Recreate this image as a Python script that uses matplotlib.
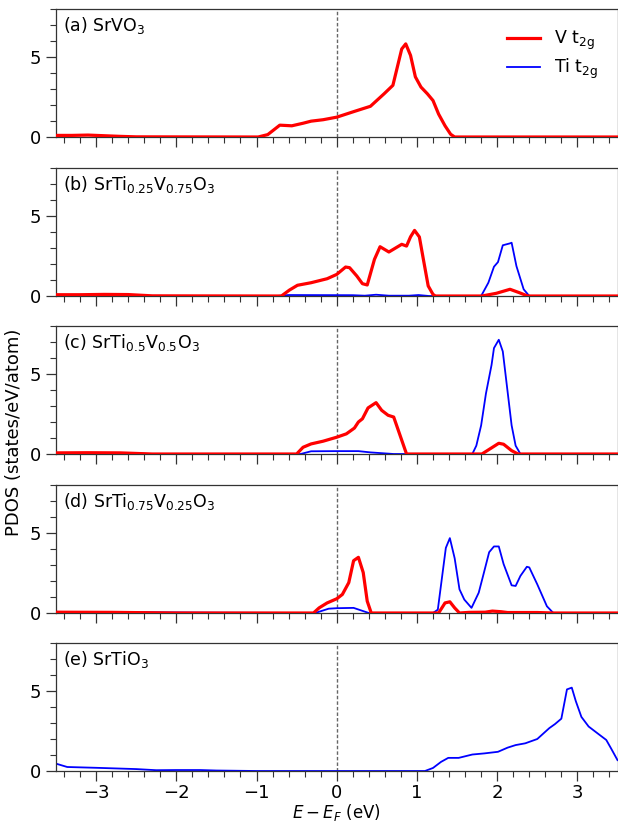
import matplotlib
matplotlib.use("Agg")
import matplotlib.pyplot as plt
from matplotlib.ticker import MultipleLocator

# ---------------- data ----------------
panel_labels = [r"(a) SrVO$_3$", r"(b) SrTi$_{0.25}$V$_{0.75}$O$_3$",
                r"(c) SrTi$_{0.5}$V$_{0.5}$O$_3$", r"(d) SrTi$_{0.75}$V$_{0.25}$O$_3$",
                r"(e) SrTiO$_3$"]
series_labels = [r"V t$_{\mathrm{2g}}$", r"Ti t$_{\mathrm{2g}}$"]

# (a) SrVO3
a_v_e = [-3.5, -3.3, -3.1, -2.9, -2.7, -2.5, -0.98, -0.86, -0.71, -0.56, -0.42, -0.32, -0.17, 0.0,
         0.22, 0.42, 0.59, 0.70, 0.81, 0.86, 0.92, 0.98, 1.05, 1.13, 1.20, 1.27, 1.35, 1.42, 1.47, 3.5]
a_v_d = [0.10, 0.10, 0.12, 0.08, 0.04, 0.01, 0.0, 0.15, 0.74, 0.70, 0.86, 0.99, 1.08, 1.24,
         1.60, 1.92, 2.70, 3.23, 5.50, 5.82, 5.10, 3.76, 3.12, 2.70, 2.28, 1.43, 0.70, 0.17, 0.0, 0.0]

# (b) SrTi0.25V0.75O3
b_v_e = [-3.5, -3.2, -2.9, -2.6, -2.3, -0.69, -0.59, -0.49, -0.32, -0.12, 0.0, 0.11, 0.16, 0.25,
         0.32, 0.38, 0.47, 0.54, 0.65, 0.81, 0.87, 0.92, 0.97, 1.03, 1.08, 1.14, 1.20, 1.23,
         1.81, 1.99, 2.16, 2.28, 2.38, 3.5]
b_v_d = [0.08, 0.08, 0.10, 0.09, 0.01, 0.0, 0.37, 0.67, 0.83, 1.08, 1.35, 1.81, 1.77, 1.25,
         0.77, 0.69, 2.29, 3.08, 2.75, 3.23, 3.12, 3.70, 4.10, 3.69, 2.29, 0.63, 0.10, 0.0,
         0.0, 0.17, 0.42, 0.20, 0.0, 0.0]
b_t_e = [-3.5, -2.5, -0.75, -0.6, 0.2, 0.35, 0.49, 0.65, 0.9, 1.02, 1.15, 1.80, 1.89, 1.96, 2.01,
         2.07, 2.16, 2.18, 2.24, 2.33, 2.40, 3.5]
b_t_d = [0.02, 0.01, 0.0, 0.06, 0.05, 0.02, 0.08, 0.02, 0.02, 0.06, 0.0, 0.0, 0.83, 1.83, 2.12,
         3.17, 3.29, 3.33, 1.87, 0.42, 0.0, 0.0]

# (c) SrTi0.5V0.5O3
c_v_e = [-3.5, -3.1, -2.7, -2.3, -0.50, -0.42, -0.32, -0.17, 0.0, 0.12, 0.22, 0.27, 0.32, 0.39,
         0.49, 0.56, 0.64, 0.71, 0.87, 1.81, 1.91, 2.02, 2.08, 2.18, 2.26, 3.5]
c_v_d = [0.07, 0.08, 0.07, 0.0, 0.0, 0.42, 0.63, 0.80, 1.05, 1.26, 1.62, 2.00, 2.20, 2.88,
         3.21, 2.73, 2.42, 2.31, 0.0, 0.0, 0.32, 0.67, 0.61, 0.21, 0.0, 0.0]
c_t_e = [-3.5, -2.8, -2.3, -0.45, -0.32, 0.0, 0.27, 0.42, 0.71, 1.69, 1.74, 1.80, 1.86, 1.93,
         1.96, 2.02, 2.07, 2.13, 2.18, 2.23, 2.29, 3.5]
c_t_d = [0.05, 0.05, 0.0, 0.0, 0.17, 0.18, 0.18, 0.10, 0.0, 0.0, 0.52, 1.79, 3.78, 5.57,
         6.62, 7.14, 6.41, 3.89, 1.79, 0.52, 0.0, 0.0]

# (d) SrTi0.75V0.25O3
d_v_e = [-3.5, -2.8, -2.0, -0.29, -0.22, -0.12, 0.0, 0.07, 0.15, 0.21, 0.27, 0.33, 0.38, 0.43,
         1.27, 1.35, 1.41, 1.47, 1.53, 1.65, 1.85, 1.94, 2.05, 2.13, 2.5, 2.7, 3.5]
d_v_d = [0.05, 0.04, 0.0, 0.0, 0.32, 0.63, 0.89, 1.16, 1.90, 3.27, 3.48, 2.53, 0.74, 0.0,
         0.0, 0.63, 0.70, 0.32, 0.0, 0.04, 0.05, 0.12, 0.08, 0.03, 0.03, 0.0, 0.0]
d_t_e = [-3.5, -2.5, -1.5, -0.27, -0.10, 0.0, 0.21, 0.40, 1.20, 1.26, 1.36, 1.41, 1.47, 1.53,
         1.59, 1.68, 1.77, 1.83, 1.90, 1.96, 2.02, 2.08, 2.18, 2.23, 2.29, 2.37, 2.40, 2.50,
         2.62, 2.70, 3.5]
d_t_d = [0.07, 0.05, 0.02, 0.0, 0.27, 0.30, 0.32, 0.0, 0.0, 0.21, 4.07, 4.68, 3.42, 1.48,
         0.84, 0.32, 1.27, 2.43, 3.80, 4.16, 4.16, 3.06, 1.73, 1.69, 2.32, 2.89, 2.85, 1.79,
         0.42, 0.0, 0.0]

# (e) SrTiO3
e_t_e = [-3.5, -3.36, -3.0, -2.5, -2.25, -2.0, -1.7, -1.5, -1.0, 1.10, 1.20, 1.30, 1.39, 1.52,
         1.69, 1.84, 2.01, 2.13, 2.23, 2.35, 2.50, 2.65, 2.72, 2.80, 2.87, 2.93, 2.98, 3.05,
         3.14, 3.26, 3.36, 3.42, 3.5]
e_t_d = [0.46, 0.25, 0.20, 0.12, 0.05, 0.06, 0.06, 0.03, 0.0, 0.0, 0.19, 0.57, 0.82, 0.82,
         1.03, 1.10, 1.20, 1.46, 1.62, 1.73, 2.00, 2.68, 2.93, 3.27, 5.10, 5.21, 4.37, 3.38,
         2.78, 2.32, 1.94, 1.41, 0.68]

v_series = [(a_v_e, a_v_d), (b_v_e, b_v_d), (c_v_e, c_v_d), (d_v_e, d_v_d), None]
ti_series = [None, (b_t_e, b_t_d), (c_t_e, c_t_d), (d_t_e, d_t_d), (e_t_e, e_t_d)]

xticks = [-3, -2, -1, 0, 1, 2, 3]
yticks = [0, 5]

# ---------------- figure ----------------
fig = plt.figure(figsize=(6.18, 8.23), dpi=100)
left, width, height = 56 / 618, 561.5 / 618, 128 / 823
bottoms = [686 / 823, 527 / 823, 369 / 823, 210 / 823, 52 / 823]

axes = []
for i in range(5):
    ax = fig.add_axes([left, bottoms[i], width, height])
    axes.append(ax)
    ax.axvline(0, color="#666666", ls=(0, (2.5, 1.5)), lw=1.0, zorder=1)
    if v_series[i] is not None:
        ax.plot(v_series[i][0], v_series[i][1], color="red", lw=2.3, zorder=3,
                label=series_labels[0])
    else:
        ax.plot([], [], color="red", lw=2.3, label=series_labels[0])
    if ti_series[i] is not None:
        ax.plot(ti_series[i][0], ti_series[i][1], color="blue", lw=1.3, zorder=2,
                label=series_labels[1])
    else:
        ax.plot([], [], color="blue", lw=1.3, label=series_labels[1])
    ax.set_xlim(-3.5, 3.5)
    ax.set_ylim(0, 8)
    ax.set_xticks(xticks)
    ax.set_yticks(yticks)
    ax.xaxis.set_minor_locator(MultipleLocator(0.2))
    ax.yaxis.set_minor_locator(MultipleLocator(1))
    ax.tick_params(which="major", direction="out", length=7.5, width=0.9,
                   labelsize=13, color="#333333")
    ax.tick_params(axis="x", which="major", pad=2)
    ax.tick_params(which="minor", direction="out", length=4, width=0.8, color="#333333")
    for s in ax.spines.values():
        s.set_linewidth(0.9)
        s.set_color("#333333")
    if i < 4:
        ax.tick_params(axis="x", labelbottom=False)
    ax.text(0.012, 0.95, panel_labels[i], transform=ax.transAxes, fontsize=12.5,
            ha="left", va="top")

axes[0].legend(loc="upper right", frameon=False, fontsize=12.5, handlelength=1.9,
               bbox_to_anchor=(0.985, 0.93), borderaxespad=0.2, labelspacing=0.3)
axes[4].set_xlabel(r"$E - E_F$ (eV)", fontsize=12, labelpad=0)
fig.text(0.022, 0.475, "PDOS (states/eV/atom)", rotation=90, fontsize=13,
         ha="center", va="center")

fig.savefig("out.png", dpi=100)
